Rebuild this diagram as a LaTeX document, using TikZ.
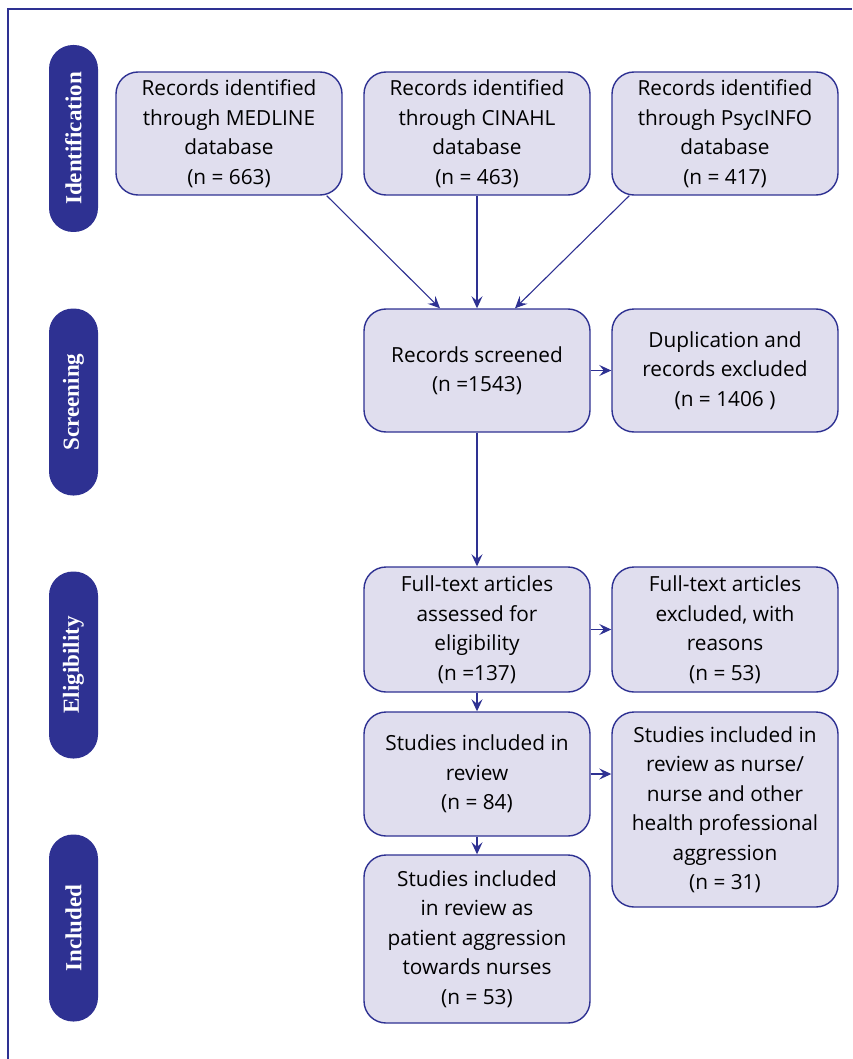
\documentclass[tikz,border=0pt]{standalone}
\usepackage{fontspec}
\setmainfont{Open Sans}
\newfontfamily\stagefont{Liberation Serif}
\usetikzlibrary{arrows.meta}
\definecolor{prismablue}{HTML}{2E3192}
\definecolor{prismafill}{HTML}{E0DEEE}
\newcommand{\pixel}{1pt}

\begin{document}
\begin{tikzpicture}[x=\pixel,y=-\pixel,
	recbox/.style={draw=prismablue, fill=prismafill, line width=1.4pt, rounded corners=22pt,
		minimum width=226pt, align=center, font=\fontsize{20.8}{29.5}\selectfont, inner sep=1pt},
	stage/.style={fill=prismablue, text=white, rounded corners=24pt, rotate=90,
		minimum width=187pt, minimum height=49pt, inner sep=0pt,
		font=\stagefont\bfseries\fontsize{23}{26}\selectfont},
	flow/.style={draw=prismablue, line width=1.1pt, -{Stealth[length=12pt,width=11pt,inset=4.5pt]}}]
	\useasboundingbox (0,0) rectangle (852,1059);
	\draw[prismablue, line width=1.4pt] (8,1059) -- (8,9) -- (852,9);

	% stages
	\node[stage] (ident) at (73.5,138.5) {Identification};
	\node[stage] (screen) at (73.5,402) {Screening};
	\node[stage] (elig) at (73.5,665) {Eligibility};
	\node[stage] (incl) at (73.5,928) {Included};

	% boxes
	\node[recbox, minimum height=123pt] (medline) at (229,133.5)
		{Records identified\\through MEDLINE\\database\\(n = 663)};
	\node[recbox, minimum height=123pt] (cinahl) at (477,133.5)
		{Records identified\\through CINAHL\\database\\(n = 463)};
	\node[recbox, minimum height=123pt] (psyc) at (725,133.5)
		{Records identified\\through PsycINFO\\database\\(n = 417)};
	\node[recbox, minimum height=123pt] (screened) at (477,370.5)
		{Records screened\\(n =1543)};
	\node[recbox, minimum height=123pt] (dupl) at (725,370.5)
		{Duplication and\\records excluded\\(n = 1406 )};
	\node[recbox, minimum height=125pt] (fulltext) at (477,629.5)
		{Full-text articles\\assessed for\\eligibility\\(n =137)};
	\node[recbox, minimum height=125pt] (excluded) at (725,629.5)
		{Full-text articles\\excluded, with\\reasons\\(n = 53)};
	\node[recbox, minimum height=124pt] (studies) at (477,774)
		{Studies included in\\review\\(n = 84)};
	\node[recbox, minimum height=195pt] (nurse) at (725,809.5)
		{Studies included in\\review as nurse/\\nurse and other\\health professional\\aggression\\(n = 31)};
	\node[recbox, minimum height=168pt] (patient) at (477,939)
		{Studies included\\in review as\\patient aggression\\towards nurses\\(n = 53)};

	% arrows
	\draw[flow] ([xshift=-16pt]medline.south east) -- ([xshift=-37pt]screened.north);
	\draw[flow] (cinahl) -- (screened);
	\draw[flow] ([xshift=18pt]psyc.south west) -- ([xshift=38pt]screened.north);
	\draw[flow] (screened) -- (dupl);
	\draw[flow] (screened) -- (fulltext);
	\draw[flow] (fulltext) -- (excluded);
	\draw[flow] (fulltext) -- (studies);
	\draw[flow] (studies.east) -- (studies.east -| nurse.west);
	\draw[flow] (studies) -- (patient);
\end{tikzpicture}
\end{document}
